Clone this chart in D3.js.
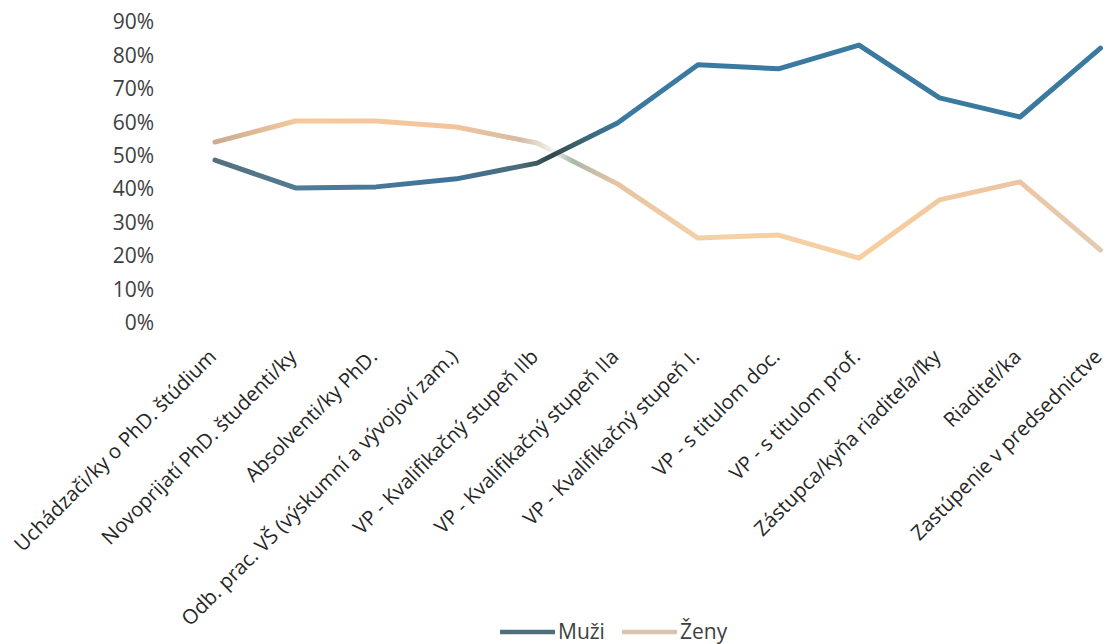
<!DOCTYPE html>
<html>
<head>
<meta charset="utf-8">
<script src="https://cdn.jsdelivr.net/npm/d3@7"></script>
<style>
  html, body { margin: 0; padding: 0; background: #fff; }
  svg { display: block; }
  text { font-family: "Open Sans", "Noto Sans", sans-serif; }
</style>
</head>
<body>
<svg id="chart" width="1107" height="644"></svg>
<script>
const categories = [
  "Uchádzači/ky o PhD. štúdium",
  "Novoprijatí PhD. študenti/ky",
  "Absolventi/ky PhD.",
  "Odb. prac. VŠ (výskumní a vývojoví zam.)",
  "VP - Kvalifikačný stupeň IIb",
  "VP - Kvalifikačný stupeň IIa",
  "VP - Kvalifikačný stupeň I.",
  "VP - s titulom doc.",
  "VP - s titulom prof.",
  "Zástupca/kyňa riaditeľa/ľky",
  "Riaditeľ/ka",
  "Zastúpenie v predsednictve"
];
const muzi = [0.487, 0.404, 0.407, 0.431, 0.478, 0.598, 0.772, 0.760, 0.831, 0.673, 0.616, 0.822];
const zeny = [0.541, 0.604, 0.604, 0.586, 0.538, 0.416, 0.254, 0.263, 0.194, 0.368, 0.422, 0.218];
const yTicks = [0, 0.1, 0.2, 0.3, 0.4, 0.5, 0.6, 0.7, 0.8, 0.9];
const seriesNames = ["Muži", "Ženy"];

const svg = d3.select("#chart");

const x = d3.scalePoint().domain(categories).range([215, 1100.5]);
const y = d3.scaleLinear().domain([0, 0.9]).range([323, 22]);

// gradients
const defs = svg.append("defs");
function grad(id, stops) {
  const g = defs.append("linearGradient").attr("id", id)
    .attr("gradientUnits", "userSpaceOnUse")
    .attr("x1", 215).attr("x2", 1101).attr("y1", 0).attr("y2", 0);
  stops.forEach(([px, c]) => g.append("stop")
    .attr("offset", ((px - 215) / 886).toFixed(4)).attr("stop-color", c));
}
grad("gMuzi", [[215, "#56707c"], [300, "#4f7d96"], [450, "#3f739a"], [520, "#4d6c78"], [552, "#2f4848"], [575, "#3d6068"], [620, "#3a7aa0"], [1101, "#3b7a9f"]]);
grad("gZeny", [[215, "#c9ac92"], [300, "#f6c99c"], [450, "#f4c59b"], [520, "#d4bca4"], [553, "#f2f2ee"], [572, "#a9b9aa"], [615, "#e6c3a3"], [700, "#f3d1a8"], [860, "#f7cfa0"], [1000, "#eec5a0"], [1101, "#e4cab2"]]);

// Y axis
const yAxis = d3.axisLeft(y).tickValues(yTicks).tickFormat(d3.format(".0%")).tickSize(0).tickPadding(0);
const gy = svg.append("g").attr("transform", "translate(154,0)").call(yAxis);
gy.select(".domain").remove();
gy.selectAll("text").attr("font-size", 21).attr("fill", "#404040")
  .style("font-family", '"Open Sans", sans-serif');

// X axis
const xAxis = d3.axisBottom(x).tickSize(0).tickPadding(0);
const gx = svg.append("g").attr("transform", "translate(0,358)").call(xAxis);
gx.select(".domain").remove();
gx.selectAll("text")
  .attr("y", 0).attr("x", 0).attr("dy", null)
  .attr("text-anchor", "end")
  .attr("transform", "translate(2,0) rotate(-45)")
  .attr("font-size", 20.3).attr("fill", "#262626")
  .style("font-family", '"Open Sans", sans-serif');

// lines
const line = d3.line().x((d, i) => x(categories[i])).y(d => y(d));
svg.append("path").datum(zeny).attr("d", line)
  .attr("fill", "none").attr("stroke", "url(#gZeny)").attr("stroke-width", 5)
  .attr("stroke-linejoin", "round").attr("stroke-linecap", "round");
svg.append("path").datum(muzi).attr("d", line)
  .attr("fill", "none").attr("stroke", "url(#gMuzi)").attr("stroke-width", 5)
  .attr("stroke-linejoin", "round").attr("stroke-linecap", "round");

// legend
const legend = [
  { name: seriesNames[0], x1: 500, x2: 555, tx: 558, color: "#4f6f7c" },
  { name: seriesNames[1], x1: 622, x2: 677, tx: 680, color: "#dcc3ab" }
];
const lg = svg.append("g");
legend.forEach(l => {
  lg.append("line").attr("x1", l.x1).attr("x2", l.x2).attr("y1", 632).attr("y2", 632)
    .attr("stroke", l.color).attr("stroke-width", 4.5);
  lg.append("text").attr("x", l.tx).attr("y", 632).attr("dy", "0.35em")
    .attr("font-size", 21).attr("fill", "#404040").text(l.name);
});
</script>
</body>
</html>
